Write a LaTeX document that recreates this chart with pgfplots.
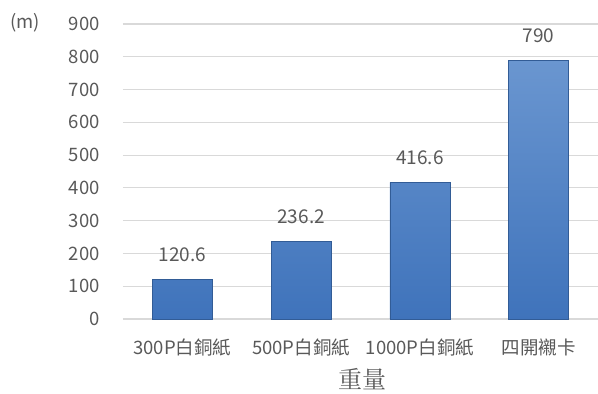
\documentclass[border=0pt]{standalone}
\usepackage{fontspec}
\setmainfont{Noto Sans CJK TC}
\newfontfamily\serifcjk{Noto Serif CJK TC}
\usepackage{pgfplots}
\pgfplotsset{compat=1.18}
\definecolor{txt}{HTML}{595959}
\definecolor{grd}{HTML}{D9D9D9}
\definecolor{bartop}{HTML}{6A96D0}
\definecolor{barbot}{HTML}{3F73BB}
\begin{document}
\begin{tikzpicture}
\useasboundingbox (-123pt,-75pt) rectangle (475pt,319pt);
\begin{axis}[
  at={(0pt,0pt)}, anchor=south west,
  scale only axis, width=475pt, height=295pt,
  xmin=-0.5, xmax=3.5, ymin=0, ymax=900,
  ytick={0,100,...,900},
  xtick={0,1,2,3},
  xticklabels={300P白銅紙,500P白銅紙,1000P白銅紙,四開襯卡},
  axis line style={draw=none},
  major tick style={draw=none},
  ymajorgrids, major grid style={draw=grd, line width=1.2pt},
  /pgf/number format/assume math mode=true,
  ticklabel style={font=\fontsize{18.5}{22}\selectfont, text=txt, inner sep=0pt},
  yticklabel style={anchor=east, xshift=-23pt},
  xticklabel style={anchor=base, yshift=-35pt},
  nodes near coords,
  every node near coord/.append style={font=\fontsize{19}{22}\selectfont, text=txt, anchor=base, inner sep=0pt, yshift=18pt},
  nodes near coords={\pgfmathprintnumber[fixed, precision=1]{\pgfplotspointmeta}},
  clip=false,
]
\addplot[ybar, bar width=60pt, draw=barbot!80!black, line width=0.4pt, top color=bartop, bottom color=barbot]
  coordinates {(0,120.6) (1,236.2) (2,416.6) (3,790)};
\end{axis}
\node[anchor=base west, text=txt, font=\fontsize{18.5}{22}\selectfont, inner sep=0pt] at (-113pt,290pt) {(m)};
\node[anchor=base, text=txt, font=\serifcjk\fontsize{24}{28}\selectfont, inner sep=0pt] at (239pt,-70pt) {重量};
\end{tikzpicture}
\end{document}
